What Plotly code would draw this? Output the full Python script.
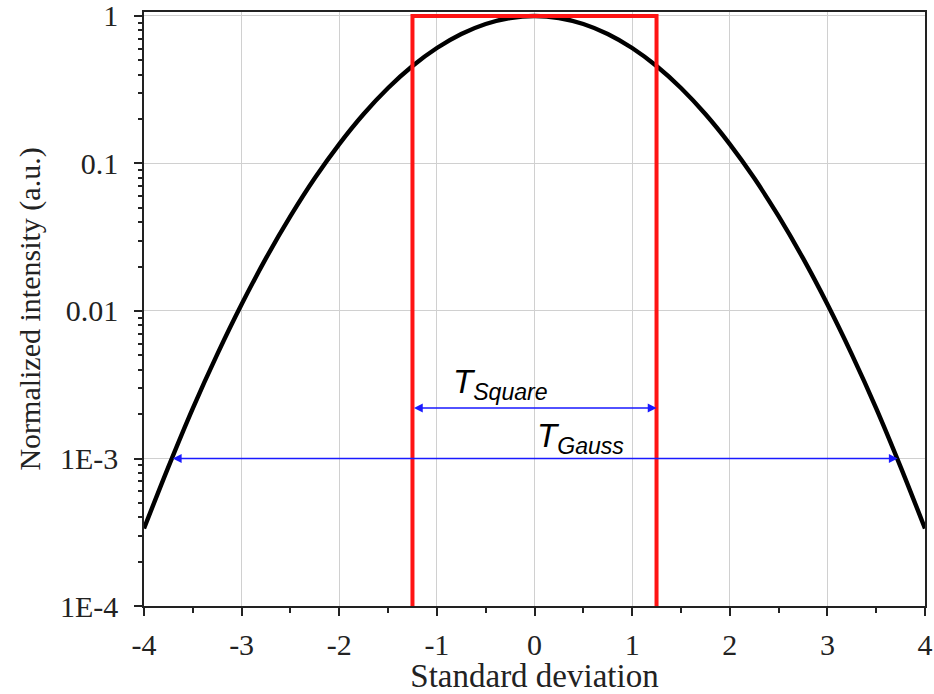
import math
import plotly.graph_objects as go

# Normalized Gaussian intensity profile vs. standard deviation
sigma = [-4.0, -3.75, -3.5, -3.25, -3.0, -2.75, -2.5, -2.25, -2.0, -1.75, -1.5, -1.25,
         -1.0, -0.75, -0.5, -0.25, 0.0, 0.25, 0.5, 0.75, 1.0, 1.25, 1.5, 1.75,
         2.0, 2.25, 2.5, 2.75, 3.0, 3.25, 3.5, 3.75, 4.0]
intensity = [0.000335, 0.000878, 0.00219, 0.00508, 0.0111, 0.0228, 0.0439, 0.0796,
             0.1353, 0.2163, 0.3247, 0.4578, 0.6065, 0.7548, 0.8825, 0.9692, 1.0,
             0.9692, 0.8825, 0.7548, 0.6065, 0.4578, 0.3247, 0.2163, 0.1353, 0.0796,
             0.0439, 0.0228, 0.0111, 0.00508, 0.00219, 0.000878, 0.000335]

# Square pulse of equal energy
square_x = [-1.25, -1.25, 1.25, 1.25]
square_y = [1e-4, 1.0, 1.0, 1e-4]

# Width markers
gauss_half_width = 3.72
gauss_level = 1e-3
square_half_width = 1.25
square_level = 2.2e-3

x_ticks = [-4, -3, -2, -1, 0, 1, 2, 3, 4]
x_minor = [-3.5, -2.5, -1.5, -0.5, 0.5, 1.5, 2.5, 3.5]
y_ticks = [1, 0.1, 0.01, 1e-3, 1e-4]
y_tick_text = ["1", "0.1", "0.01", "1E-3", "1E-4"]
y_minor = [m * 10.0 ** e for e in range(-4, 0) for m in range(2, 10)]

fig = go.Figure()
fig.add_trace(go.Scatter(x=sigma, y=intensity, mode="lines",
                         line=dict(color="black", width=4.4, shape="spline"),
                         showlegend=False))
fig.add_trace(go.Scatter(x=square_x, y=square_y, mode="lines",
                         line=dict(color="#ff1414", width=4),
                         showlegend=False))

arrow_style = dict(showarrow=True, arrowhead=2, arrowsize=1.1, arrowwidth=1.6,
                   arrowcolor="#1a1aff", arrowside="end+start",
                   axref="x", ayref="y", xref="x", yref="y", text="",
                   standoff=0, startstandoff=0)
fig.add_annotation(x=gauss_half_width, y=math.log10(gauss_level),
                   ax=-gauss_half_width, ay=math.log10(gauss_level), **arrow_style)
fig.add_annotation(x=square_half_width, y=math.log10(square_level),
                   ax=-square_half_width, ay=math.log10(square_level), **arrow_style)

label_font = dict(family="Liberation Sans, Arial, sans-serif", size=33, color="black")
fig.add_annotation(x=-0.86, y=math.log10(3.2e-3), xref="x", yref="y",
                   text="<i>T</i><sub><i>Square</i></sub>", showarrow=False,
                   xanchor="left", yanchor="middle", font=label_font)
fig.add_annotation(x=0.0, y=math.log10(1.38e-3), xref="x", yref="y",
                   text="<i>T</i><sub><i>Gauss</i></sub>", showarrow=False,
                   xanchor="left", yanchor="middle", font=label_font)

serif = "Liberation Serif, Times New Roman, serif"
fig.update_layout(
    width=934, height=694,
    margin=dict(l=144, r=9, t=12, b=88, autoexpand=False),
    paper_bgcolor="white", plot_bgcolor="white",
    font=dict(family=serif, size=30, color="#222"),
    xaxis=dict(range=[-4, 4], tickvals=x_ticks, ticktext=[str(v) for v in x_ticks],
               automargin=False, ticklabeloverflow="allow",
               showline=True, linecolor="#222", linewidth=1.5, mirror=True,
               ticks="outside", ticklen=8, tickwidth=1.5, tickcolor="#222",
               ticklabelstandoff=3, tickfont=dict(size=30),
               showgrid=True, gridcolor="#d0d0d0", gridwidth=1, zeroline=False,
               minor=dict(tickvals=x_minor, ticks="outside", ticklen=5, tickwidth=1.5,
                          tickcolor="#222", showgrid=False),
               title=dict(text="Standard deviation", font=dict(size=33), standoff=0)),
    yaxis=dict(type="log", range=[-4, 0.027], tickvals=y_ticks, ticktext=y_tick_text,
               automargin=False, ticklabeloverflow="allow",
               showline=True, linecolor="#222", linewidth=1.5, mirror=True,
               ticks="outside", ticklen=8, tickwidth=1.5, tickcolor="#222",
               ticklabelstandoff=10, tickfont=dict(size=30),
               showgrid=True, gridcolor="#d0d0d0", gridwidth=1, zeroline=False,
               minor=dict(tickvals=y_minor, ticks="outside", ticklen=4, tickwidth=1.5,
                          tickcolor="#222", showgrid=False),
               title=dict(text="Normalized intensity (a.u.)", font=dict(size=30), standoff=10)),
)

fig.write_html("out.html")
